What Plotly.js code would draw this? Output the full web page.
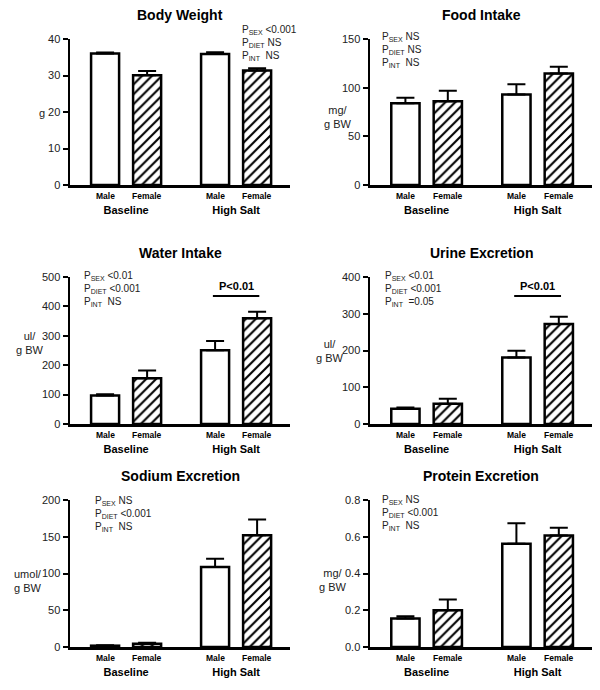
<!DOCTYPE html>
<html>
<head>
<meta charset="utf-8">
<script src="https://cdn.plot.ly/plotly-3.0.1.min.js"></script>
<style>
  body { margin: 0; background: #fff; }
  #plot { width: 600px; height: 690px; }
</style>
</head>
<body>
<div id="plot"></div>
<script>
// groups on the x axis and the two series
var groups = ["Baseline", "High Salt"];
var sexes = ["Male", "Female"];

// panel titles and y units
var titles = ["Body Weight", "Food Intake", "Water Intake", "Urine Excretion", "Sodium Excretion", "Protein Excretion"];
var units = ["g", "mg/<br>g BW", "ul/<br>g BW", "ul/<br>g BW", "umol/<br>g BW", "mg/<br>g BW"];

// means and SEM (Baseline, High Salt)
var bwMale = [36.0, 35.9], bwMaleErr = [0.3, 0.5];
var bwFemale = [30.1, 31.4], bwFemaleErr = [1.1, 0.6];

var foodMale = [84, 93], foodMaleErr = [5.7, 10.5];
var foodFemale = [86, 114.5], foodFemaleErr = [10.8, 7];

var waterMale = [97, 251], waterMaleErr = [4.5, 31];
var waterFemale = [156, 360], waterFemaleErr = [26, 21.5];

var urineMale = [41.5, 181], urineMaleErr = [3.5, 18];
var urineFemale = [55, 272], urineFemaleErr = [13.5, 20];

var sodiumMale = [1.8, 109], sodiumMaleErr = [0.5, 11];
var sodiumFemale = [4.5, 152], sodiumFemaleErr = [1.4, 21.5];

var proteinMale = [0.155, 0.562], proteinMaleErr = [0.013, 0.111];
var proteinFemale = [0.2, 0.607], proteinFemaleErr = [0.058, 0.042];

// statistics text
var pSex = ["&lt;0.001", "NS", "&lt;0.01", "&lt;0.01", "NS", "NS"];
var pDiet = ["NS", "NS", "&lt;0.001", "&lt;0.001", "&lt;0.001", "&lt;0.001"];
var pInt = ["NS", "NS", "NS", "=0.05", "NS", "NS"];
var postHoc = [null, null, "P&lt;0.01", "P&lt;0.01", null, null];

var maleMeans = [bwMale, foodMale, waterMale, urineMale, sodiumMale, proteinMale];
var maleErrs = [bwMaleErr, foodMaleErr, waterMaleErr, urineMaleErr, sodiumMaleErr, proteinMaleErr];
var femaleMeans = [bwFemale, foodFemale, waterFemale, urineFemale, sodiumFemale, proteinFemale];
var femaleErrs = [bwFemaleErr, foodFemaleErr, waterFemaleErr, urineFemaleErr, sodiumFemaleErr, proteinFemaleErr];

// axis setup
var yMax = [40, 150, 500, 400, 200, 0.8];
var yStep = [10, 50, 100, 100, 50, 0.2];
var bracketY = [0, 0, 435, 348, 0, 0];

var font = "Arial, 'Liberation Sans', sans-serif";
var W = 600, H = 690;
var colX = [[70, 290], [370, 592]];
var rowY = [[39, 185], [277, 424], [500, 647]];
var statsX = [240, 380, 82, 383, 93, 380];
var statsShift = [17, 10, 9, 9, 7, 8];
var unitPos = [[42, 113], [338, 117], [30, 343], [330, 351], [28, 581], [333, 580]];

var data = [];
var layout = {
  width: W, height: H,
  margin: {l: 0, r: 0, t: 0, b: 0},
  paper_bgcolor: "white", plot_bgcolor: "white",
  showlegend: false,
  barmode: "group", bargap: 0.236, bargroupgap: 0.333,
  font: {family: font, color: "black"},
  annotations: [], shapes: []
};

var pxPerCat = 110;
var barOffset = 0.191;

for (var i = 0; i < 6; i++) {
  var n = i + 1;
  var xa = n === 1 ? "x" : "x" + n;
  var ya = n === 1 ? "y" : "y" + n;
  var col = colX[i % 2], row = rowY[Math.floor(i / 2)];

  data.push({
    type: "bar", x: groups, y: maleMeans[i], name: sexes[0],
    xaxis: xa, yaxis: ya,
    marker: {color: "white", line: {color: "black", width: 2.5}},
    error_y: {type: "data", symmetric: false, array: maleErrs[i], arrayminus: [0, 0],
              color: "black", thickness: 2, width: 9}
  });
  data.push({
    type: "bar", x: groups, y: femaleMeans[i], name: sexes[1],
    xaxis: xa, yaxis: ya,
    marker: {color: "white", line: {color: "black", width: 2.5},
             pattern: {shape: "/", fgcolor: "black", bgcolor: "white", size: 7, solidity: 0.3}},
    error_y: {type: "data", symmetric: false, array: femaleErrs[i], arrayminus: [0, 0],
              color: "black", thickness: 2, width: 9}
  });

  layout[n === 1 ? "xaxis" : "xaxis" + n] = {
    domain: [col[0] / W, col[1] / W], anchor: ya,
    type: "category", range: [-0.51, 1.49],
    showline: true, linewidth: 2.5, linecolor: "black",
    showgrid: false, zeroline: false, ticks: "",
    tickfont: {family: font, size: 11, weight: "bold", color: "black"},
    ticklabelstandoff: 13, fixedrange: true
  };
  layout[n === 1 ? "yaxis" : "yaxis" + n] = {
    domain: [1 - row[1] / H, 1 - row[0] / H], anchor: xa,
    range: [0, yMax[i]], dtick: yStep[i], tick0: 0,
    tickformat: i === 5 ? ".1f" : "",
    showline: true, linewidth: 2.5, linecolor: "black",
    ticks: "outside", ticklen: 5, tickwidth: 2, tickcolor: "black",
    showgrid: false, zeroline: false,
    tickfont: {family: font, size: 11, color: "#222"}, fixedrange: true
  };

  // title
  layout.annotations.push({
    xref: xa + " domain", yref: ya + " domain", x: 0.5, y: 1, yshift: 24,
    text: titles[i], showarrow: false, yanchor: "middle",
    font: {family: font, size: 14, weight: "bold", color: "black"}
  });
  // unit label
  layout.annotations.push({
    xref: "paper", yref: "paper", x: unitPos[i][0] / W, y: 1 - unitPos[i][1] / H,
    xanchor: "center", yanchor: "middle",
    text: units[i], showarrow: false, align: "center",
    font: {family: font, size: 11, color: "#222"}
  });
  // Male / Female labels
  for (var g = 0; g < groups.length; g++) {
    for (var s = 0; s < sexes.length; s++) {
      layout.annotations.push({
        xref: xa, yref: ya + " domain", x: groups[g], y: 0, yanchor: "top",
        xshift: (s === 0 ? -1 : 1) * barOffset * pxPerCat, yshift: -4,
        text: sexes[s], showarrow: false,
        font: {family: font, size: 8.5, weight: "bold", color: "black"}
      });
    }
  }
  // stats text
  layout.annotations.push({
    xref: "paper", yref: ya + " domain", x: statsX[i] / W, y: 1,
    xanchor: "left", yanchor: "top", yshift: statsShift[i], align: "left",
    text: "P<sub>SEX</sub> " + pSex[i] + "<br>P<sub>DIET</sub> " + pDiet[i] + "<br>P<sub>INT</sub>  " + pInt[i],
    showarrow: false, font: {family: font, size: 10, color: "#222"}
  });
  // post-hoc bracket
  if (postHoc[i]) {
    layout.shapes.push({
      type: "line", xref: xa, yref: ya,
      x0: 1 - barOffset - 0.02, x1: 1 + barOffset + 0.02, y0: bracketY[i], y1: bracketY[i],
      line: {color: "black", width: 2}
    });
    layout.annotations.push({
      xref: xa, yref: ya, x: 1, y: bracketY[i], yanchor: "bottom", yshift: 2,
      text: postHoc[i], showarrow: false,
      font: {family: font, size: 11, weight: "bold", color: "black"}
    });
  }
}

Plotly.newPlot("plot", data, layout, {staticPlot: true});
</script>
</body>
</html>
